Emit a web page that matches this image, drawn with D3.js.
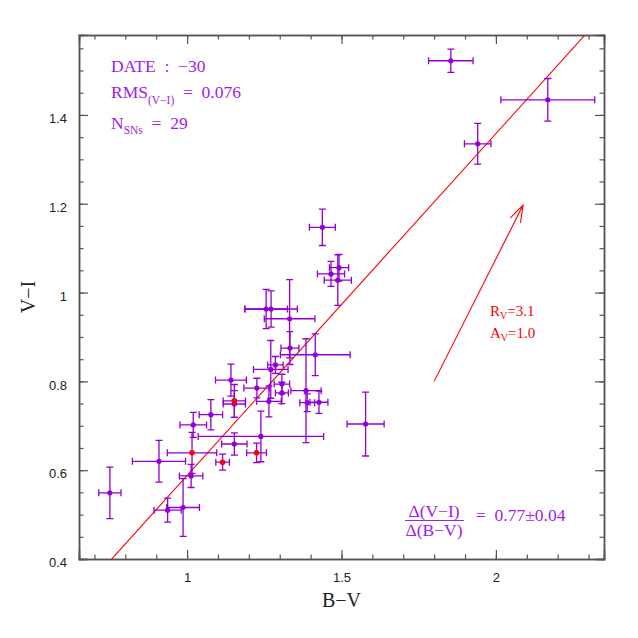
<!DOCTYPE html>
<html>
<head>
<meta charset="utf-8">
<script src="https://cdn.jsdelivr.net/npm/d3@7"></script>
<style>
  body { margin: 0; background: #fff; }
  .tick text { font-family: "Liberation Sans", Arial, sans-serif; font-size: 13px; fill: #222; }
  .serif { font-family: "Liberation Serif", "Times New Roman", serif; }
</style>
</head>
<body>
<div class="chart"></div>
<script>
// Data (B-V, V-I, and their errors)
var bv    = [0.750, 0.909, 0.937, 0.987, 1.013, 1.020, 1.077, 1.142, 1.153, 1.153, 1.239, 1.226, 1.265, 1.271, 1.286, 1.307, 1.307, 1.333, 1.415, 1.385, 1.389, 1.427, 1.578, 1.438, 1.466, 1.492, 1.488, 1.256, 1.272, 1.332, 1.854, 1.941, 2.168];
var vi    = [0.549, 0.620, 0.510, 0.516, 0.587, 0.702, 0.725, 0.803, 0.749, 0.659, 0.676, 0.785, 0.755, 0.827, 0.837, 0.794, 0.774, 0.875, 0.860, 0.779, 0.752, 0.753, 0.704, 1.147, 1.042, 1.056, 1.028, 0.963, 0.963, 0.941, 1.522, 1.335, 1.434];
var bvErr = [0.036, 0.086, 0.044, 0.053, 0.038, 0.043, 0.038, 0.050, 0.036, 0.041, 0.203, 0.042, 0.040, 0.056, 0.025, 0.025, 0.021, 0.029, 0.113, 0.049, 0.024, 0.029, 0.060, 0.042, 0.044, 0.031, 0.044, 0.069, 0.085, 0.082, 0.072, 0.043, 0.152];
var viErr = [0.058, 0.047, 0.027, 0.065, 0.026, 0.028, 0.034, 0.036, 0.030, 0.025, 0.057, 0.022, 0.035, 0.065, 0.019, 0.022, 0.024, 0.037, 0.047, 0.117, 0.020, 0.025, 0.072, 0.041, 0.028, 0.030, 0.057, 0.044, 0.041, 0.088, 0.026, 0.046, 0.048];

// red points
var redBV    = [1.016, 1.115, 1.153, 1.225];
var redVI    = [0.639, 0.618, 0.756, 0.639];
var redBVErr = [0.080, 0.022, 0.036, 0.032];
var redVIErr = [0.046, 0.018, 0.037, 0.022];

// fit and reddening vector
var fitSlope = 0.77;
var fitIntercept = -0.182;
var arrowFrom = [1.80, 0.80];
var arrowTo = [2.088, 1.197];

var xMajor = [1, 1.5, 2];
var yMajor = [0.4, 0.6, 0.8, 1, 1.2, 1.4];

var svgWidth = 638, svgHeight = 638;
var margin = { top: 35, right: 34, bottom: 79, left: 79 };
var width = svgWidth - margin.left - margin.right;
var height = svgHeight - margin.top - margin.bottom;

var purple = "#9400d3";
var textPurple = "#a020f0";

var svg = d3.select(".chart").append("svg")
  .attr("width", svgWidth)
  .attr("height", svgHeight);

var g = svg.append("g")
  .attr("transform", `translate(${margin.left},${margin.top})`);

var x = d3.scaleLinear().domain([0.65, 2.35]).range([0, width]);
var y = d3.scaleLinear().domain([0.4, 1.58]).range([height, 0]);

svg.append("defs").append("clipPath").attr("id", "clip")
  .append("rect").attr("width", width).attr("height", height);

// Axes (ticks inward on all four sides)
var xMinor = d3.range(0.7, 2.35, 0.1);
var yMinor = d3.range(0.45, 1.58, 0.05);

function styleAxis(sel) {
  sel.select(".domain").attr("stroke", "#555").attr("stroke-width", 1.5);
  sel.selectAll(".tick line").attr("stroke", "#555").attr("stroke-width", 1.2);
}

var sides = [
  { gen: d3.axisBottom, sc: x, tr: `translate(0,${height})`, lab: true },
  { gen: d3.axisTop, sc: x, tr: "translate(0,0)", lab: false },
  { gen: d3.axisLeft, sc: y, tr: "translate(0,0)", lab: true },
  { gen: d3.axisRight, sc: y, tr: `translate(${width},0)`, lab: false }
];

sides.forEach(function(s) {
  var isX = s.sc === x;
  var minor = g.append("g").attr("transform", s.tr)
    .call(s.gen(s.sc).tickValues(isX ? xMinor : yMinor).tickSize(-4.5).tickFormat(""));
  styleAxis(minor);
  var major = g.append("g").attr("transform", s.tr)
    .call(s.gen(s.sc).tickValues(isX ? xMajor : yMajor).tickSize(-9)
      .tickPadding(isX ? 14 : 12)
      .tickFormat(s.lab ? d3.format("~g") : ""));
  styleAxis(major);
  if (!isX) major.selectAll(".tick text").attr("dy", "0.6em");
});

// Axis titles
g.append("text")
  .attr("class", "serif")
  .attr("x", width / 2)
  .attr("y", height + 48)
  .attr("text-anchor", "middle")
  .attr("font-size", 20)
  .attr("fill", "#222")
  .text("B\u2212V");

g.append("text")
  .attr("class", "serif")
  .attr("transform", `translate(${-44},${height / 2}) rotate(-90)`)
  .attr("text-anchor", "middle")
  .attr("font-size", 20)
  .attr("fill", "#222")
  .text("V\u2212I");

var plot = g.append("g").attr("clip-path", "url(#clip)");

// Fit line
var xd = x.domain();
plot.append("line")
  .attr("x1", x(xd[0])).attr("y1", y(fitSlope * xd[0] + fitIntercept))
  .attr("x2", x(xd[1])).attr("y2", y(fitSlope * xd[1] + fitIntercept))
  .attr("stroke", "#ff0000")
  .attr("stroke-width", 1.1);

// Error bars + points
function drawSeries(xs, ys, exs, eys) {
  var data = xs.map(function(d, i) { return { x: d, y: ys[i], ex: exs[i], ey: eys[i] }; });
  var cap = 3.5;
  var grp = plot.append("g").attr("stroke", purple).attr("stroke-width", 1.3).attr("fill", "none");
  data.forEach(function(d) {
    var cx = x(d.x), cy = y(d.y);
    var x0 = x(d.x - d.ex), x1 = x(d.x + d.ex);
    var y0 = y(d.y - d.ey), y1 = y(d.y + d.ey);
    var path = d3.path();
    path.moveTo(x0, cy); path.lineTo(x1, cy);
    path.moveTo(x0, cy - cap); path.lineTo(x0, cy + cap);
    path.moveTo(x1, cy - cap); path.lineTo(x1, cy + cap);
    path.moveTo(cx, y0); path.lineTo(cx, y1);
    path.moveTo(cx - cap, y0); path.lineTo(cx + cap, y0);
    path.moveTo(cx - cap, y1); path.lineTo(cx + cap, y1);
    grp.append("path").attr("d", path.toString());
  });
  return data;
}

var mainData = drawSeries(bv, vi, bvErr, viErr);
var redData = drawSeries(redBV, redVI, redBVErr, redVIErr);

plot.append("g").selectAll("circle")
  .data(mainData).enter().append("circle")
  .attr("cx", d => x(d.x)).attr("cy", d => y(d.y))
  .attr("r", 2.6).attr("fill", purple);

plot.append("g").selectAll("circle")
  .data(redData).enter().append("circle")
  .attr("cx", d => x(d.x)).attr("cy", d => y(d.y))
  .attr("r", 2.8).attr("fill", "#ff0000");

// Reddening arrow
var ax0 = x(arrowFrom[0]), ay0 = y(arrowFrom[1]);
var ax1 = x(arrowTo[0]), ay1 = y(arrowTo[1]);
var ang = Math.atan2(ay1 - ay0, ax1 - ax0);
var headLen = 18, headAng = 0.32;
var arrowPath = d3.path();
arrowPath.moveTo(ax0, ay0); arrowPath.lineTo(ax1, ay1);
arrowPath.moveTo(ax1 - headLen * Math.cos(ang - headAng), ay1 - headLen * Math.sin(ang - headAng));
arrowPath.lineTo(ax1, ay1);
arrowPath.lineTo(ax1 - headLen * Math.cos(ang + headAng), ay1 - headLen * Math.sin(ang + headAng));
g.append("path").attr("d", arrowPath.toString())
  .attr("fill", "none").attr("stroke", "#ff0000").attr("stroke-width", 1.1);

var rv = g.append("text").attr("class", "serif").attr("fill", "#ff0000").attr("font-size", 15)
  .attr("x", 411).attr("y", 281);
rv.append("tspan").text("R");
rv.append("tspan").attr("font-size", 10).attr("dy", 3).text("V");
rv.append("tspan").attr("dy", -3).text("=3.1");

var av = g.append("text").attr("class", "serif").attr("fill", "#ff0000").attr("font-size", 15)
  .attr("x", 411).attr("y", 303);
av.append("tspan").text("A");
av.append("tspan").attr("font-size", 10).attr("dy", 3).text("V");
av.append("tspan").attr("dy", -3).text("=1.0");

// Top-left annotations
var ann = g.append("g").attr("class", "serif").attr("fill", textPurple).attr("font-size", 17.5);

ann.append("text").attr("x", 32).attr("y", 37)
  .attr("xml:space", "preserve").text("DATE  :  \u221230");

var rms = ann.append("text").attr("x", 32).attr("y", 62.5).attr("xml:space", "preserve");
rms.append("tspan").text("RMS");
rms.append("tspan").attr("font-size", 11.5).attr("dy", 6).text("(V\u2212I)");
rms.append("tspan").attr("dy", -6).text("  =  0.076");

var nsn = ann.append("text").attr("x", 32).attr("y", 94).attr("xml:space", "preserve");
nsn.append("tspan").text("N");
nsn.append("tspan").attr("font-size", 11.5).attr("dy", 4.5).text("SNs");
nsn.append("tspan").attr("dy", -4.5).text("  =  29");

// Bottom-right slope annotation
var frac = g.append("g").attr("class", "serif").attr("fill", textPurple).attr("font-size", 17.5);
frac.append("text").attr("x", 355).attr("y", 481.5).attr("text-anchor", "middle").text("\u0394(V\u2212I)");
frac.append("line").attr("x1", 326).attr("x2", 385).attr("y1", 485.5).attr("y2", 485.5)
  .attr("stroke", textPurple).attr("stroke-width", 1);
frac.append("text").attr("x", 355).attr("y", 500.5).attr("text-anchor", "middle").text("\u0394(B\u2212V)");
frac.append("text").attr("x", 397).attr("y", 486).attr("xml:space", "preserve").text("=  0.77\u00b10.04");
</script>
</body>
</html>
